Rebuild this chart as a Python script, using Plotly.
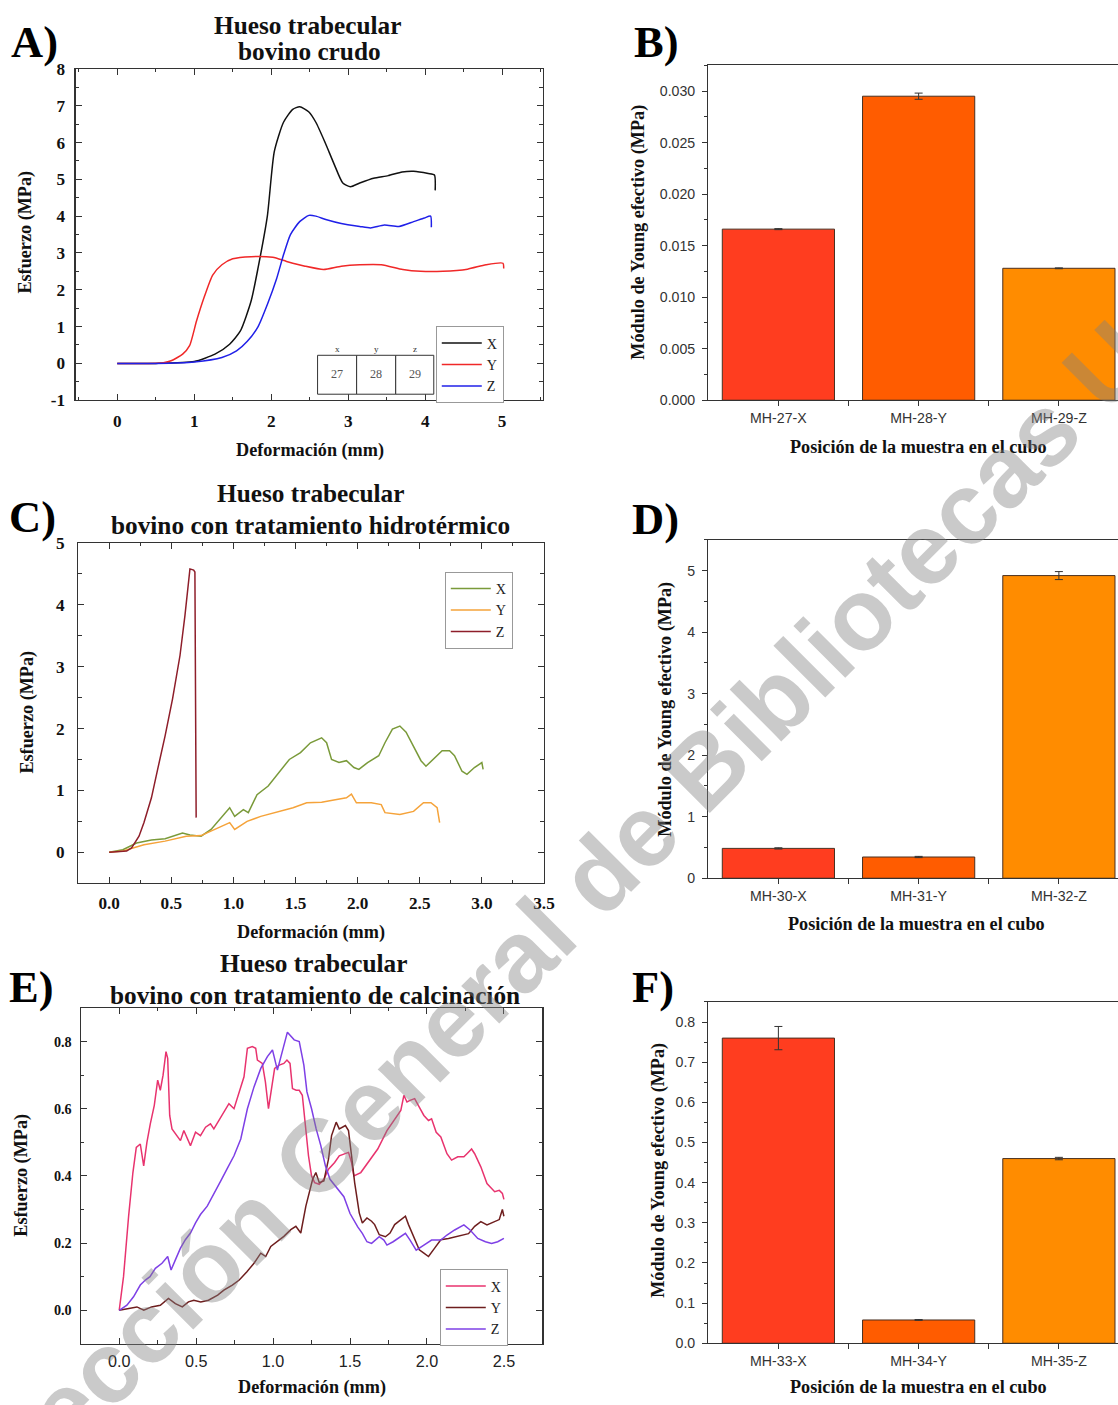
import plotly.graph_objects as go

# The photographed page is scaled by S and shifted down by SHIFT px; all positions below are
# written in picture pixels and converted to figure paper coordinates.
S, SHIFT = 0.9885, 8.0
OX, OY = 0, 0                # body margin is removed by the post script
FW, FH = 1131, 1405
FS = 1 / S


def px(x):
    return (x / S - OX) / FW


def py(y):
    return 1 - ((y - SHIFT) / S - OY) / FH


SERIF = "Liberation Serif"
SANS = "Liberation Sans"

# ---------------- DATA ----------------
# Panel A: raw bovine trabecular bone (stress-strain)
A_X_x = [0, 0.5, 1.0, 1.27, 1.46, 1.6, 1.74, 1.83, 1.95, 2.04, 2.16, 2.28, 2.37, 2.49, 2.58, 2.7, 2.82, 2.93, 3.03, 3.15, 3.33, 3.52, 3.7, 3.85, 4.04, 4.12, 4.13]
A_X_y = [0, 0.0, 0.05, 0.25, 0.52, 0.88, 1.7, 2.6, 4.0, 5.75, 6.55, 6.9, 6.97, 6.83, 6.55, 6.0, 5.4, 4.9, 4.8, 4.9, 5.03, 5.1, 5.2, 5.22, 5.16, 5.12, 4.7]
A_Y_x = [0, 0.4, 0.6, 0.7, 0.85, 0.94, 1.03, 1.13, 1.24, 1.36, 1.5, 1.74, 2.02, 2.2, 2.44, 2.68, 2.91, 3.15, 3.43, 3.71, 3.94, 4.23, 4.55, 4.79, 5.01, 5.02]
A_Y_y = [0, 0.0, 0.02, 0.07, 0.25, 0.48, 1.15, 1.8, 2.4, 2.68, 2.84, 2.9, 2.88, 2.77, 2.64, 2.55, 2.64, 2.68, 2.68, 2.55, 2.5, 2.5, 2.56, 2.68, 2.72, 2.58]
A_Z_x = [0, 0.5, 1.0, 1.36, 1.55, 1.69, 1.83, 1.95, 2.07, 2.16, 2.25, 2.37, 2.49, 2.58, 2.72, 2.91, 3.15, 3.29, 3.47, 3.66, 3.85, 3.99, 4.07, 4.08]
A_Z_y = [0, 0.0, 0.04, 0.16, 0.34, 0.6, 1.0, 1.6, 2.3, 2.95, 3.5, 3.85, 4.02, 4.0, 3.9, 3.8, 3.72, 3.68, 3.76, 3.72, 3.85, 3.95, 4.0, 3.7]
A_Y_TICKS = [-1, 0, 1, 2, 3, 4, 5, 6, 7, 8]
A_CUBE = ["27", "28", "29"]
A_CUBE_HEAD = ["x", "y", "z"]

# Panel C: hydrothermal treatment
C_X_x = [0, 0.11, 0.22, 0.34, 0.45, 0.51, 0.59, 0.65, 0.74, 0.82, 0.91, 0.97, 1.01, 1.08, 1.12, 1.19, 1.28, 1.37, 1.45, 1.54, 1.62, 1.71, 1.75, 1.79, 1.85, 1.91, 1.97, 2.01, 2.08, 2.17, 2.22, 2.28, 2.34, 2.39, 2.45, 2.51, 2.55, 2.61, 2.68, 2.74, 2.78, 2.84, 2.88, 2.94, 3.0, 3.01]
C_X_y = [0, 0.04, 0.15, 0.2, 0.22, 0.26, 0.31, 0.28, 0.26, 0.37, 0.58, 0.72, 0.58, 0.69, 0.64, 0.93, 1.07, 1.29, 1.5, 1.61, 1.77, 1.85, 1.77, 1.5, 1.45, 1.48, 1.37, 1.34, 1.45, 1.56, 1.77, 1.99, 2.04, 1.94, 1.72, 1.48, 1.39, 1.5, 1.64, 1.64, 1.56, 1.31, 1.26, 1.37, 1.45, 1.34]
C_Y_x = [0, 0.11, 0.28, 0.45, 0.62, 0.74, 0.85, 0.97, 1.01, 1.11, 1.22, 1.37, 1.48, 1.59, 1.71, 1.82, 1.91, 1.95, 1.99, 2.11, 2.19, 2.22, 2.34, 2.45, 2.53, 2.59, 2.64, 2.66]
C_Y_y = [0, 0.02, 0.12, 0.18, 0.26, 0.27, 0.37, 0.48, 0.37, 0.5, 0.58, 0.66, 0.72, 0.8, 0.81, 0.85, 0.88, 0.94, 0.8, 0.8, 0.77, 0.64, 0.61, 0.66, 0.8, 0.8, 0.72, 0.48]
C_Z_x = [0, 0.14, 0.18, 0.24, 0.28, 0.34, 0.39, 0.45, 0.51, 0.57, 0.61, 0.64, 0.65, 0.68, 0.69, 0.70]
C_Z_y = [0, 0.02, 0.07, 0.26, 0.48, 0.88, 1.34, 1.88, 2.48, 3.18, 3.83, 4.42, 4.58, 4.56, 4.53, 0.56]

# Panel E: calcination treatment
E_X_x = [0, 0.028, 0.061, 0.089, 0.111, 0.137, 0.159, 0.18, 0.202, 0.228, 0.25, 0.267, 0.285, 0.304, 0.315, 0.328, 0.343, 0.376, 0.398, 0.42, 0.441, 0.463, 0.496, 0.528, 0.561, 0.593, 0.615, 0.648, 0.68, 0.713, 0.746, 0.778, 0.811, 0.833, 0.865, 0.887, 0.898, 0.93, 0.95, 0.97, 0.99, 1.01, 1.04, 1.07, 1.09, 1.11, 1.126, 1.15, 1.17, 1.19, 1.21, 1.23, 1.25, 1.27, 1.30, 1.33, 1.36, 1.40, 1.43, 1.46, 1.49, 1.51, 1.525, 1.57, 1.61, 1.68, 1.74, 1.80, 1.83, 1.85, 1.87, 1.89, 1.92, 1.95, 1.98, 2.01, 2.03, 2.06, 2.09, 2.13, 2.16, 2.2, 2.24, 2.26, 2.29, 2.31, 2.35, 2.39, 2.44, 2.47, 2.49, 2.5]
E_X_y = [0, 0.10, 0.28, 0.41, 0.485, 0.495, 0.43, 0.50, 0.555, 0.61, 0.685, 0.655, 0.70, 0.77, 0.75, 0.58, 0.54, 0.52, 0.505, 0.535, 0.51, 0.49, 0.53, 0.52, 0.545, 0.555, 0.54, 0.565, 0.59, 0.615, 0.60, 0.65, 0.695, 0.78, 0.785, 0.78, 0.745, 0.735, 0.68, 0.60, 0.66, 0.72, 0.73, 0.735, 0.745, 0.735, 0.66, 0.655, 0.655, 0.64, 0.55, 0.46, 0.40, 0.38, 0.375, 0.39, 0.42, 0.44, 0.46, 0.465, 0.47, 0.44, 0.40, 0.41, 0.435, 0.48, 0.535, 0.575, 0.595, 0.64, 0.62, 0.625, 0.63, 0.605, 0.58, 0.565, 0.57, 0.53, 0.516, 0.466, 0.447, 0.457, 0.457, 0.466, 0.48, 0.466, 0.427, 0.377, 0.353, 0.357, 0.348, 0.33]
E_Y_x = [0, 0.07, 0.115, 0.16, 0.21, 0.267, 0.32, 0.365, 0.41, 0.45, 0.485, 0.53, 0.58, 0.64, 0.68, 0.735, 0.78, 0.83, 0.876, 0.92, 0.952, 0.985, 1.03, 1.07, 1.115, 1.148, 1.18, 1.213, 1.257, 1.278, 1.30, 1.33, 1.36, 1.38, 1.41, 1.43, 1.47, 1.49, 1.51, 1.53, 1.56, 1.58, 1.61, 1.64, 1.66, 1.69, 1.73, 1.76, 1.79, 1.83, 1.86, 1.88, 1.92, 1.95, 1.98, 2.01, 2.05, 2.09, 2.14, 2.2, 2.24, 2.27, 2.31, 2.35, 2.39, 2.44, 2.47, 2.49, 2.5]
E_Y_y = [0, 0.005, 0.01, 0.0, 0.01, 0.015, 0.035, 0.02, 0.01, 0.025, 0.03, 0.025, 0.03, 0.045, 0.06, 0.075, 0.09, 0.115, 0.14, 0.17, 0.16, 0.19, 0.205, 0.22, 0.24, 0.25, 0.23, 0.31, 0.39, 0.41, 0.38, 0.385, 0.45, 0.52, 0.56, 0.54, 0.55, 0.535, 0.46, 0.38, 0.29, 0.26, 0.275, 0.265, 0.255, 0.225, 0.219, 0.23, 0.255, 0.27, 0.28, 0.255, 0.21, 0.18, 0.17, 0.16, 0.185, 0.21, 0.214, 0.22, 0.224, 0.228, 0.25, 0.264, 0.254, 0.264, 0.27, 0.30, 0.28]
E_Z_x = [0, 0.05, 0.093, 0.137, 0.17, 0.2, 0.235, 0.278, 0.315, 0.337, 0.365, 0.398, 0.43, 0.463, 0.496, 0.528, 0.572, 0.615, 0.66, 0.70, 0.746, 0.79, 0.833, 0.876, 0.92, 0.963, 0.996, 1.028, 1.06, 1.093, 1.137, 1.17, 1.2, 1.22, 1.25, 1.28, 1.31, 1.34, 1.37, 1.41, 1.46, 1.5, 1.55, 1.58, 1.61, 1.64, 1.69, 1.72, 1.74, 1.78, 1.83, 1.86, 1.89, 1.93, 1.98, 2.03, 2.09, 2.13, 2.18, 2.24, 2.28, 2.33, 2.38, 2.42, 2.46, 2.5]
E_Z_y = [0, 0.015, 0.04, 0.075, 0.09, 0.10, 0.125, 0.14, 0.16, 0.12, 0.15, 0.185, 0.21, 0.23, 0.26, 0.285, 0.31, 0.345, 0.385, 0.42, 0.46, 0.51, 0.60, 0.665, 0.72, 0.755, 0.775, 0.715, 0.77, 0.828, 0.805, 0.80, 0.73, 0.65, 0.60, 0.54, 0.49, 0.43, 0.39, 0.367, 0.338, 0.288, 0.248, 0.229, 0.204, 0.199, 0.219, 0.209, 0.194, 0.204, 0.219, 0.229, 0.209, 0.179, 0.194, 0.209, 0.209, 0.224, 0.239, 0.254, 0.239, 0.214, 0.204, 0.199, 0.204, 0.214]

# Panels B, D, F: effective Young's modulus
B_cats = ["MH-27-X", "MH-28-Y", "MH-29-Z"]
B_vals = [0.0166, 0.0295, 0.0128]
B_err = [0.00005, 0.0003, 0.00004]
D_cats = ["MH-30-X", "MH-31-Y", "MH-32-Z"]
D_vals = [0.485, 0.345, 4.92]
D_err = [0.01, 0.01, 0.065]
F_cats = ["MH-33-X", "MH-34-Y", "MH-35-Z"]
F_vals = [0.76, 0.058, 0.46]
F_err = [0.029, 0.001, 0.003]
BAR_POS = [0, 1, 2]
BAR_COLORS = ["#FF3D1F", "#FF5C00", "#FF8C00"]

# ---------------- FIGURE ----------------
fig = go.Figure()


def add_lines(series, xa, ya, leg, shape):
    for name, xs, ys, col in series:
        fig.add_trace(go.Scatter(
            x=xs, y=ys, mode="lines", name=name,
            line=dict(color=col, width=1.5, shape=shape, smoothing=0.6 if shape == "spline" else None),
            xaxis=xa, yaxis=ya, legend=leg))


add_lines([("X", A_X_x, A_X_y, "#111111"),
           ("Y", A_Y_x, A_Y_y, "#F02828"),
           ("Z", A_Z_x, A_Z_y, "#2020E8")], "x", "y", "legend", "spline")
add_lines([("X", C_X_x, C_X_y, "#7A9A3A"),
           ("Y", C_Y_x, C_Y_y, "#F5A33A"),
           ("Z", C_Z_x, C_Z_y, "#8E1E2A")], "x3", "y3", "legend2", "linear")
add_lines([("X", E_X_x, E_X_y, "#E8336E"),
           ("Y", E_Y_x, E_Y_y, "#6E1E1E"),
           ("Z", E_Z_x, E_Z_y, "#7E40E6")], "x5", "y5", "legend3", "linear")

for vals, errs, xa, ya in [(B_vals, B_err, "x2", "y2"), (D_vals, D_err, "x4", "y4"), (F_vals, F_err, "x6", "y6")]:
    fig.add_trace(go.Bar(
        x=BAR_POS, y=vals, width=0.8,
        marker=dict(color=BAR_COLORS, line=dict(color="#4A3020", width=1)),
        error_y=dict(type="data", array=errs, color="#333333", thickness=1, width=4),
        xaxis=xa, yaxis=ya, showlegend=False))

AX = dict(showline=True, linecolor="#333333", linewidth=1.2, showgrid=False, zeroline=False)
SERIF_TICK = dict(family=SERIF, size=17 * FS, color="#111111", weight="bold")
SANS_TICK = dict(family=SANS, size=14 * FS, color="#333333")


def line_ax(domain, rng, dtick, minor, font, anchor, standoff, fmt=None, **kw):
    d = dict(AX, domain=domain, range=rng, dtick=dtick, tick0=0, ticks="inside", ticklen=6,
             tickcolor="#333333", mirror="ticks", tickfont=font, anchor=anchor,
             ticklabelstandoff=standoff,
             minor=dict(dtick=minor, tick0=0, ticks="inside", ticklen=3.5, tickcolor="#333333"))
    if fmt:
        d["tickformat"] = fmt
    d.update(kw)
    return d


# bar panels: their right edge runs off the picture edge (x = 1118)
RIGHT = [px(707), min(1.0, px(1118))]
BAR_XMAX = -0.5 + (1118 - 707) / 140.0


def bar_xax(cats, anchor):
    return dict(AX, domain=RIGHT, range=[-0.5, BAR_XMAX], tickmode="array", tickvals=BAR_POS,
                ticktext=cats, ticks="outside", ticklen=5, tickcolor="#333333", mirror=True,
                tickfont=SANS_TICK, anchor=anchor,
                minor=dict(tickvals=[0.5, 1.5], ticks="outside", ticklen=5, tickcolor="#333333"))


def bar_yax(domain, rng, dtick, minor, fmt, anchor):
    return dict(AX, domain=domain, range=rng, dtick=dtick, tick0=0, tickformat=fmt,
                ticks="outside", ticklen=5, tickcolor="#333333", mirror=False,
                tickfont=SANS_TICK, anchor=anchor, ticklabelstandoff=4,
                minor=dict(dtick=minor, tick0=0, ticks="outside", ticklen=3, tickcolor="#333333"))


fig.update_layout(
    width=FW, height=FH, margin=dict(l=0, r=0, t=0, b=0),
    paper_bgcolor="white", plot_bgcolor="white", showlegend=True, hovermode=False,
    xaxis=line_ax([px(75.5), px(542)], [-0.54, 5.53], 1, 0.5, SERIF_TICK, "y", 5),
    yaxis=line_ax([py(400), py(68)], [-1, 8], 1, 0.5, SERIF_TICK, "x", 6,
                  tickmode="array", tickvals=A_Y_TICKS, ticktext=[str(v) for v in A_Y_TICKS]),
    xaxis2=bar_xax(B_cats, "y2"),
    yaxis2=bar_yax([py(400), py(64.4)], [0, 0.0325], 0.005, 0.0025, ".3f", "x2"),
    xaxis3=line_ax([px(78), px(543)], [-0.25, 3.5], 0.5, 0.25, SERIF_TICK, "y3", 4, ".1f"),
    yaxis3=line_ax([py(884), py(543)], [-0.5, 5], 1, 0.5, SERIF_TICK, "x3", 9),
    xaxis4=bar_xax(D_cats, "y4"),
    yaxis4=bar_yax([py(879), py(540)], [0, 5.5], 1, 0.5, "d", "x4"),
    xaxis5=line_ax([px(80.6), px(541.4)], [-0.25, 2.75], 0.5, 0.25,
                   dict(family=SANS, size=16 * FS, color="#222222"), "y5", 3, ".1f"),
    yaxis5=line_ax([py(1345.6), py(1009)], [-0.1, 0.9], 0.2, 0.1,
                   dict(family=SERIF, size=14 * FS, color="#111111", weight="bold"), "x5", 5, ".1f"),
    xaxis6=bar_xax(F_cats, "y6"),
    yaxis6=bar_yax([py(1345), py(1003)], [0, 0.85], 0.1, 0.05, ".1f", "x6"),
)

LEG = dict(xanchor="left", yanchor="top", bordercolor="#999999", borderwidth=1, bgcolor="white",
           font=dict(family=SERIF, size=14 * FS, color="#222222"), tracegroupgap=0, itemwidth=40)
fig.update_layout(
    legend=dict(LEG, x=px(435), y=py(326)),
    legend2=dict(LEG, x=px(444), y=py(572)),
    legend3=dict(LEG, x=px(439), y=py(1271)),
)

ann = []


def text(t, x, y, size, bold=True, family=SERIF, angle=0, xanchor="center", color="#111111"):
    ann.append(dict(text=t, x=px(x), y=py(y), xref="paper", yref="paper", showarrow=False,
                    xanchor=xanchor, yanchor="middle", textangle=angle,
                    font=dict(family=family, size=size * FS, color=color, weight="bold" if bold else "normal")))


# panel titles
text("Hueso trabecular", 307, 24, 25)
text("bovino crudo", 309, 50, 25)
text("Hueso trabecular", 310, 493, 25)
text("bovino con tratamiento hidrotérmico", 310, 525, 25)
text("Hueso trabecular", 313, 964, 25)
text("bovino con tratamiento de calcinación", 314, 996, 25)
# panel letters
for lab, x, y in [("A)", 9, 41), ("B)", 631, 41), ("C)", 7, 517), ("D)", 629, 519), ("E)", 7, 988), ("F)", 629, 988)]:
    text(lab, x, y, 44, xanchor="left", color="#000000")
# axis titles
for t, x, y, a in [("Esfuerzo (MPa)", 25, 232, -90), ("Deformación (mm)", 309, 450, 0),
                   ("Módulo de Young efectivo (MPa)", 637, 232, -90), ("Posición de la muestra en el cubo", 917, 447, 0),
                   ("Esfuerzo (MPa)", 28, 713, -90), ("Deformación (mm)", 310, 933, 0),
                   ("Módulo de Young efectivo (MPa)", 664, 710, -90), ("Posición de la muestra en el cubo", 915, 925, 0),
                   ("Esfuerzo (MPa)", 22, 1177, -90), ("Deformación (mm)", 311, 1389, 0),
                   ("Módulo de Young efectivo (MPa)", 657, 1172, -90), ("Posición de la muestra en el cubo", 917, 1389, 0)]:
    text(t, x, y, 18, angle=a)

# inset cube diagram in panel A
shapes = []
cells = [(317, 356), (356, 395), (395, 433)]
for (x0, x1), num, head in zip(cells, A_CUBE, A_CUBE_HEAD):
    shapes.append(dict(type="rect", xref="paper", yref="paper", x0=px(x0), x1=px(x1), y0=py(394), y1=py(355),
                       line=dict(color="#333333", width=1), fillcolor="white", layer="above"))
    text(num, (x0 + x1) / 2, 374, 12, bold=False, color="#555555")
    text(head, (x0 + x1) / 2, 349, 9, bold=False, color="#333333")

# watermark of the source document
ann.append(dict(text="Dirección General de Bibliotecas UAQ", x=px(591), y=py(881), xref="paper", yref="paper",
                showarrow=False, xanchor="center", yanchor="middle", textangle=-45,
                font=dict(family=SANS, size=100 * FS, weight="bold", color="rgba(128,128,128,0.42)")))

fig.update_layout(annotations=ann, shapes=shapes)
fig.write_html("out.html", config={"displayModeBar": False, "staticPlot": True},
               post_script="document.body.style.margin = '0px';")
